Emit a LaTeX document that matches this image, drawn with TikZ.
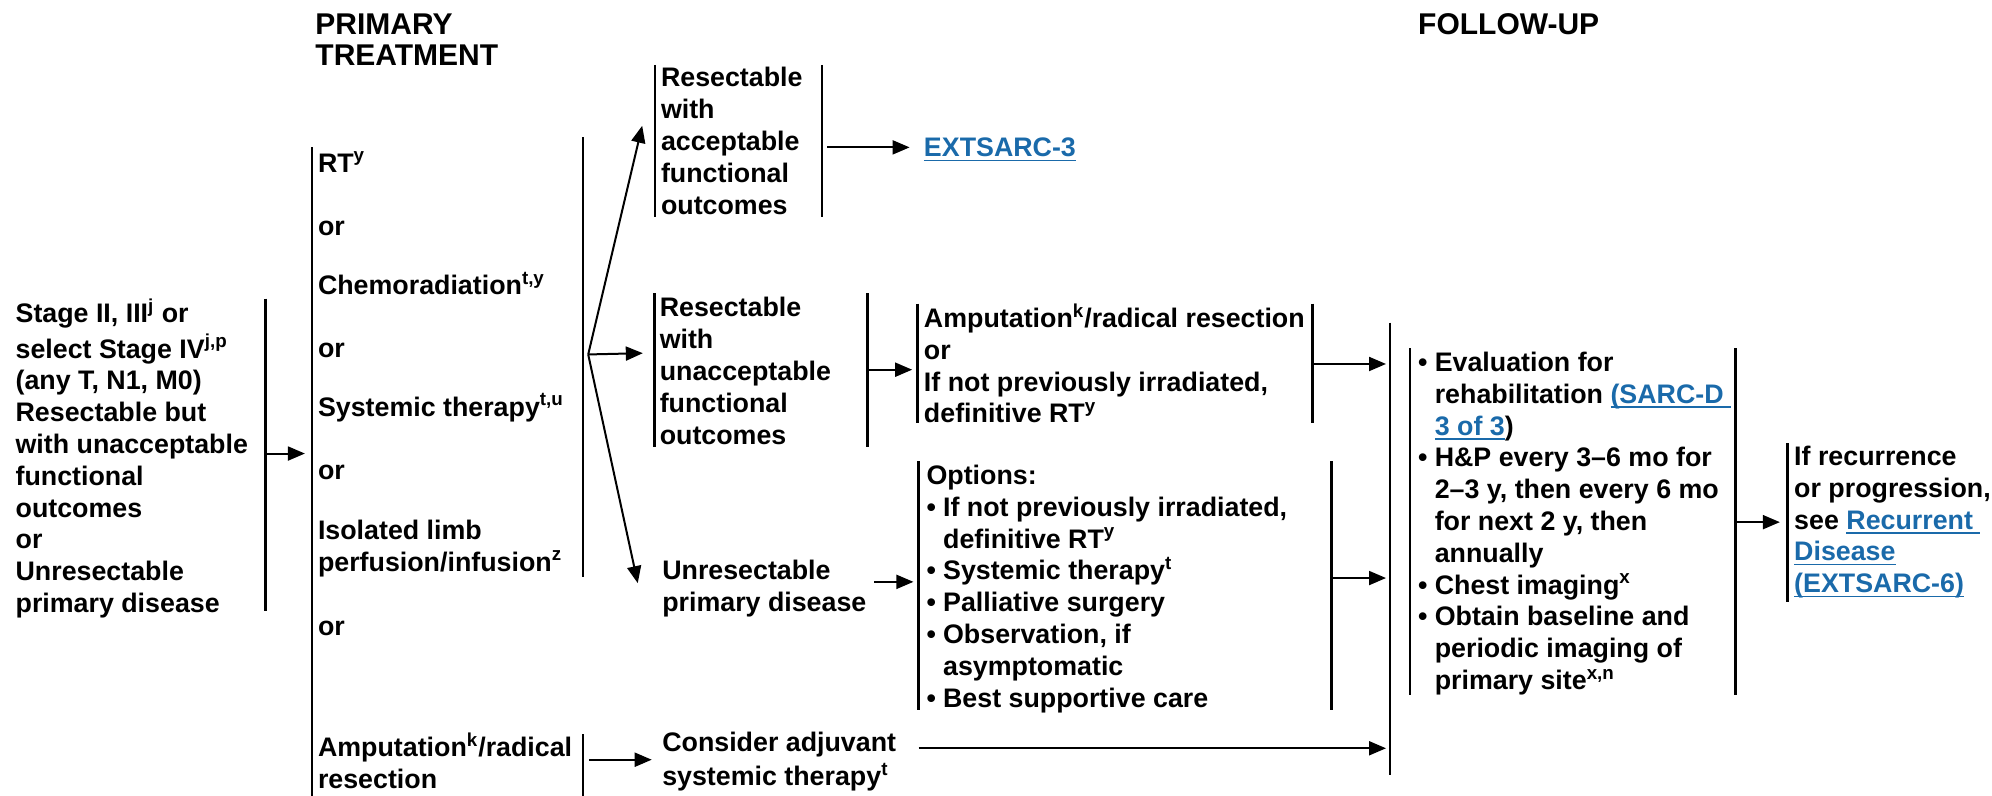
\documentclass[tikz,border=0pt]{standalone}
\usepackage{fontspec}
\setmainfont{Liberation Sans}
\usetikzlibrary{arrows.meta}
\definecolor{lnkblue}{RGB}{26,106,170}
\newcommand\sups[1]{\textsuperscript{#1}}
\newcommand\lnk[1]{{\color{lnkblue}\setbox0\hbox{#1}\rlap{\rule[-2.2pt]{\wd0}{0.8pt}}\box0}}
\newcommand\bodyfont{\fontsize{13.4}{15.9}\selectfont\bfseries}
\newcommand\headfont{\fontsize{15}{15.9}\selectfont\bfseries}
\newcommand\bul{\makebox[0.62em][l]{\textbullet}}
\newcommand\ind{\hspace*{0.62em}}
\begin{document}
\begin{tikzpicture}[x=0.6352pt,y=-0.6352pt,
  txt/.style={anchor=north west,inner sep=0pt,align=left,font=\bodyfont},
  hdr/.style={anchor=north west,inner sep=0pt,align=left,font=\headfont},
  bar/.style={line width=1.3pt},
  arr/.style={line width=1pt,-{Triangle[length=8.5pt,width=7pt]}}]
\useasboundingbox (0,0) rectangle (1568,625.8);

% column headers
\node[hdr] (hPrim) at (248,9) {\strut PRIMARY\\TREATMENT};
\node[hdr] (hFol) at (1116,9) {\strut FOLLOW-UP};

% presentation
\node[txt] (stage) at (12,234.6) {\strut Stage II, III\sups{j} or\\select Stage IV\sups{j,p}\\(any T, N1, M0)\\Resectable but\\with unacceptable\\functional\\outcomes\\or\\Unresectable\\primary disease};
\coordinate (lbT) at (209,235);
\coordinate (lbB) at (209,481);
\coordinate (lbM) at (209,357);
\coordinate (ptIn) at (240,357);
\draw[bar] (lbT) -- (lbB);
\draw[arr] (lbM) -- (ptIn);

% primary treatment options
\coordinate (ptT) at (245.6,116);
\coordinate (ptB) at (245.6,627);
\draw[bar] (ptT) -- (ptB);
\node[txt] (rt) at (250,117.6) {\strut RT\sups{y}};
\node[txt] (or1) at (250,167.6) {\strut or};
\node[txt] (chemo) at (250,213.6) {\strut Chemoradiation\sups{t,y}};
\node[txt] (or2) at (250,263.6) {\strut or};
\node[txt] (sys) at (250,309.6) {\strut Systemic therapy\sups{t,u}};
\node[txt] (or3) at (250,359.6) {\strut or};
\node[txt] (ilp) at (250,406.6) {\strut Isolated limb\\perfusion/infusion\sups{z}};
\node[txt] (or4) at (250,482.6) {\strut or};
\node[txt] (amp) at (250,576.6) {\strut Amputation\sups{k}/radical\\resection};

% right side of the non-surgical options and the fan of outcomes
\coordinate (rbT) at (459,108);
\coordinate (rbB) at (459,454);
\draw[bar] (rbT) -- (rbB);
\coordinate (fan) at (463,279);
\coordinate (toA) at (505.5,99);
\coordinate (toB) at (506,278);
\coordinate (toD) at (502,459);
\draw[arr] (fan) -- (toA);
\draw[arr] (fan) -- (toB);
\draw[arr] (fan) -- (toD);

% right side of amputation
\coordinate (abT) at (459,578);
\coordinate (abB) at (459,627);
\draw[bar] (abT) -- (abB);
\coordinate (abM) at (464,598);
\coordinate (toF) at (513,598);
\draw[arr] (abM) -- (toF);

% resectable with acceptable functional outcomes
\node[txt] (resA) at (520,50.6) {\strut Resectable\\with\\acceptable\\functional\\outcomes};
\draw[bar] (515.5,51) -- (515.5,171);
\draw[bar] (647,51) -- (647,171);
\coordinate (aOut) at (651,116);
\coordinate (eIn) at (716,116);
\draw[arr] (aOut) -- (eIn);
\node[txt] (ext3) at (727,105.6) {\strut\lnk{EXTSARC-3}};

% resectable with unacceptable functional outcomes
\node[txt] (resB) at (519,231.6) {\strut Resectable\\with\\unacceptable\\functional\\outcomes};
\draw[bar] (515,231) -- (515,352);
\draw[bar] (683,231) -- (683,352);
\coordinate (bOut) at (683,291);
\coordinate (cIn) at (718,291);
\draw[arr] (bOut) -- (cIn);

% amputation or definitive RT
\node[txt] (ampC) at (727,238.6) {\strut Amputation\sups{k}/radical resection\\or\\If not previously irradiated,\\definitive RT\sups{y}};
\draw[bar] (722,239) -- (722,333);
\draw[bar] (1033,239) -- (1033,333);
\coordinate (cOut) at (1033,286.5);
\coordinate (gIn1) at (1091,286.5);
\draw[arr] (cOut) -- (gIn1);

% unresectable primary disease
\node[txt] (unres) at (521,438.6) {\strut Unresectable\\primary disease};
\coordinate (dOut) at (688,458);
\coordinate (eOpt) at (719,458);
\draw[arr] (dOut) -- (eOpt);

% options
\node[txt] (opts) at (729,363.6) {\strut Options:\\\bul If not previously irradiated,\\\ind definitive RT\sups{y}\\\bul Systemic therapy\sups{t}\\\bul Palliative surgery\\\bul Observation, if\\\ind asymptomatic\\\bul Best supportive care};
\draw[bar] (723,363) -- (723,559);
\draw[bar] (1048,363) -- (1048,559);
\coordinate (oOut) at (1048,455);
\coordinate (gIn2) at (1091,455);
\draw[arr] (oOut) -- (gIn2);

% adjuvant therapy
\node[txt] (adj) at (521,573.6) {\strut Consider adjuvant\\systemic therapy\sups{t}};
\coordinate (fOut) at (723,589);
\coordinate (gIn3) at (1091,589);
\draw[arr] (fOut) -- (gIn3);

% follow-up
\draw[bar] (1094,254) -- (1094,610);
\node[txt] (fu) at (1116,274.6) {\strut\bul Evaluation for\\\ind rehabilitation \lnk{(SARC-D }\\\ind \lnk{3 of 3})\\\bul H\&P every 3–6 mo for\\\ind 2–3 y, then every 6 mo\\\ind for next 2 y, then\\\ind annually\\\bul Chest imaging\sups{x}\\\bul Obtain baseline and\\\ind periodic imaging of\\\ind primary site\sups{x,n}};
\draw[bar] (1110,274) -- (1110,547);
\draw[bar] (1366,274) -- (1366,547);
\coordinate (hOut) at (1366,411);
\coordinate (iIn) at (1401,411);
\draw[arr] (hOut) -- (iIn);

% recurrence
\draw[bar] (1407,349) -- (1407,474);
\node[txt] (rec) at (1412,348.6) {\strut If recurrence\\or progression,\\see \lnk{Recurrent }\\\lnk{Disease}\\\lnk{(EXTSARC-6)}};
\end{tikzpicture}
\end{document}
